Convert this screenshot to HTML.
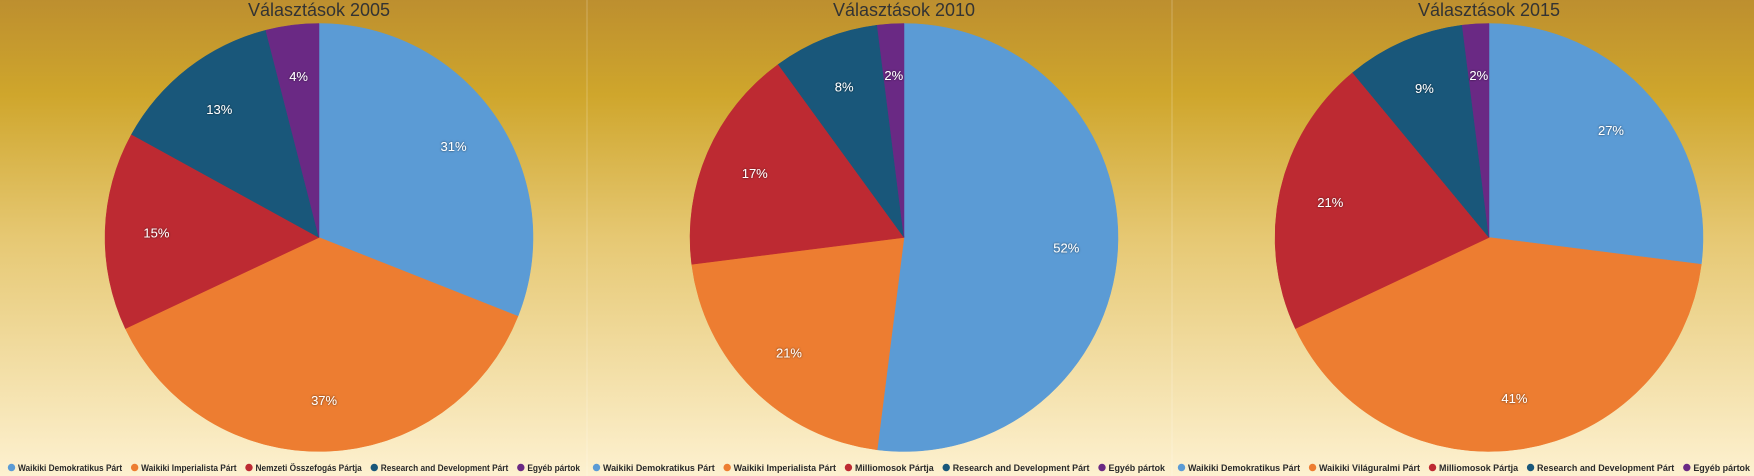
<!DOCTYPE html>
<html><head><meta charset="utf-8"><style>
html,body{margin:0;padding:0;width:1754px;height:476px;overflow:hidden;}
svg{display:block;font-family:"Liberation Sans",sans-serif;}
</style></head><body>
<svg id="chart" width="1754" height="476" viewBox="0 0 1754 476">
<defs>
<linearGradient id="bg" x1="0" y1="0" x2="0" y2="1">
<stop offset="0" stop-color="#bd8f2f"/>
<stop offset="0.2" stop-color="#cfa62c"/>
<stop offset="0.5" stop-color="#e6c873"/>
<stop offset="1" stop-color="#fdf1d0"/>
</linearGradient>
<filter id="sh" x="-20%" y="-20%" width="140%" height="140%"><feDropShadow dx="0" dy="0" stdDeviation="1" flood-color="#000" flood-opacity="0.7"/></filter>
</defs>
<rect width="1754" height="476" fill="url(#bg)"/>
<line x1="587" y1="0" x2="587" y2="476" stroke="#fff" stroke-opacity="0.25"/>
<line x1="1172" y1="0" x2="1172" y2="476" stroke="#fff" stroke-opacity="0.25"/>
<g id="plots"></g>
</svg>
<script>
const titles = ["Választások 2005", "Választások 2010", "Választások 2015"];
const values2005 = [31, 37, 15, 13, 4];
const values2010 = [52, 21, 17, 8, 2];
const values2015 = [27, 41, 21, 9, 2];
const labels2005 = ["Waikiki Demokratikus Párt", "Waikiki Imperialista Párt", "Nemzeti Összefogás Pártja", "Research and Development Párt", "Egyéb pártok"];
const labels2010 = ["Waikiki Demokratikus Párt", "Waikiki Imperialista Párt", "Milliomosok Pártja", "Research and Development Párt", "Egyéb pártok"];
const labels2015 = ["Waikiki Demokratikus Párt", "Waikiki Világuralmi Párt", "Milliomosok Pártja", "Research and Development Párt", "Egyéb pártok"];
const colors = ["#5b9bd5", "#ed7d31", "#bd2a32", "#19577a", "#6a2984"];

const NS = "http://www.w3.org/2000/svg";
const g = document.getElementById("plots");
const allValues = [values2005, values2010, values2015];
const allLabels = [labels2005, labels2010, labels2015];
const panelW = 585, R = 214, CY = 237.5;
function mk(tag, attrs, parent) {
  const e = document.createElementNS(NS, tag);
  for (const k in attrs) e.setAttribute(k, attrs[k]);
  parent.appendChild(e);
  return e;
}
allValues.forEach((vals, p) => {
  const x0 = p * panelW;
  const cx = x0 + 319;
  const pg = mk("g", {}, g);
  
  
  const t = mk("text", {x: cx, y: 16, "text-anchor": "middle", "font-size": 18, fill: "#333"}, pg);
  t.textContent = titles[p];
  
  
  const total = vals.reduce((a, b) => a + b, 0);
  let acc = 0;
  const ang = f => f * 2 * Math.PI - Math.PI / 2;
  vals.forEach((v, i) => {
    const a0 = ang(acc / total), a1 = ang((acc + v) / total);
    const large = (a1 - a0) > Math.PI ? 1 : 0;
    const d = `M${cx},${CY} L${cx + R * Math.cos(a0)},${CY + R * Math.sin(a0)} A${R},${R} 0 ${large} 1 ${cx + R * Math.cos(a1)},${CY + R * Math.sin(a1)} Z`;
    const s = mk("path", {d: d, fill: colors[i], stroke: colors[i], "stroke-width": 0.5}, pg);
    
    
    const am = ang((acc + v / 2) / total);
    const lt = mk("text", {x: cx + 0.76 * R * Math.cos(am), y: CY + 0.76 * R * Math.sin(am) + 5, "text-anchor": "middle", "font-size": 13, fill: "#fff", filter: "url(#sh)"}, pg);
    lt.textContent = Math.round(v / total * 100) + "%";
    
    
    acc += v;
  });
  const labs = allLabels[p];
  // measure natural widths
  const widths = labs.map(l => {
    const m = mk("text", {x: 0, y: -100, "font-size": 9.5, "font-weight": "bold"}, pg);
    m.textContent = l;
    const w = m.getComputedTextLength();
    pg.removeChild(m);
    return w;
  });
  const sumW = widths.reduce((a, b) => a + b, 0);
  const k = (572 - labs.length * 19 + 9) / sumW;
  let lx = x0 + 8;
  labs.forEach((l, i) => {
    const lg = mk("g", {}, pg);
    
    
    mk("circle", {cx: lx + 3.5, cy: 467.5, r: 3.7, fill: colors[i]}, lg);
    const w = widths[i] * k;
    const tx = mk("text", {x: lx + 10, y: 471, "font-size": 9.5, "font-weight": "bold", fill: "#2a2a2a", textLength: w, lengthAdjust: "spacingAndGlyphs"}, lg);
    tx.textContent = l;
    lx += 10 + w + 9;
  });
});
</script>
</body></html>
